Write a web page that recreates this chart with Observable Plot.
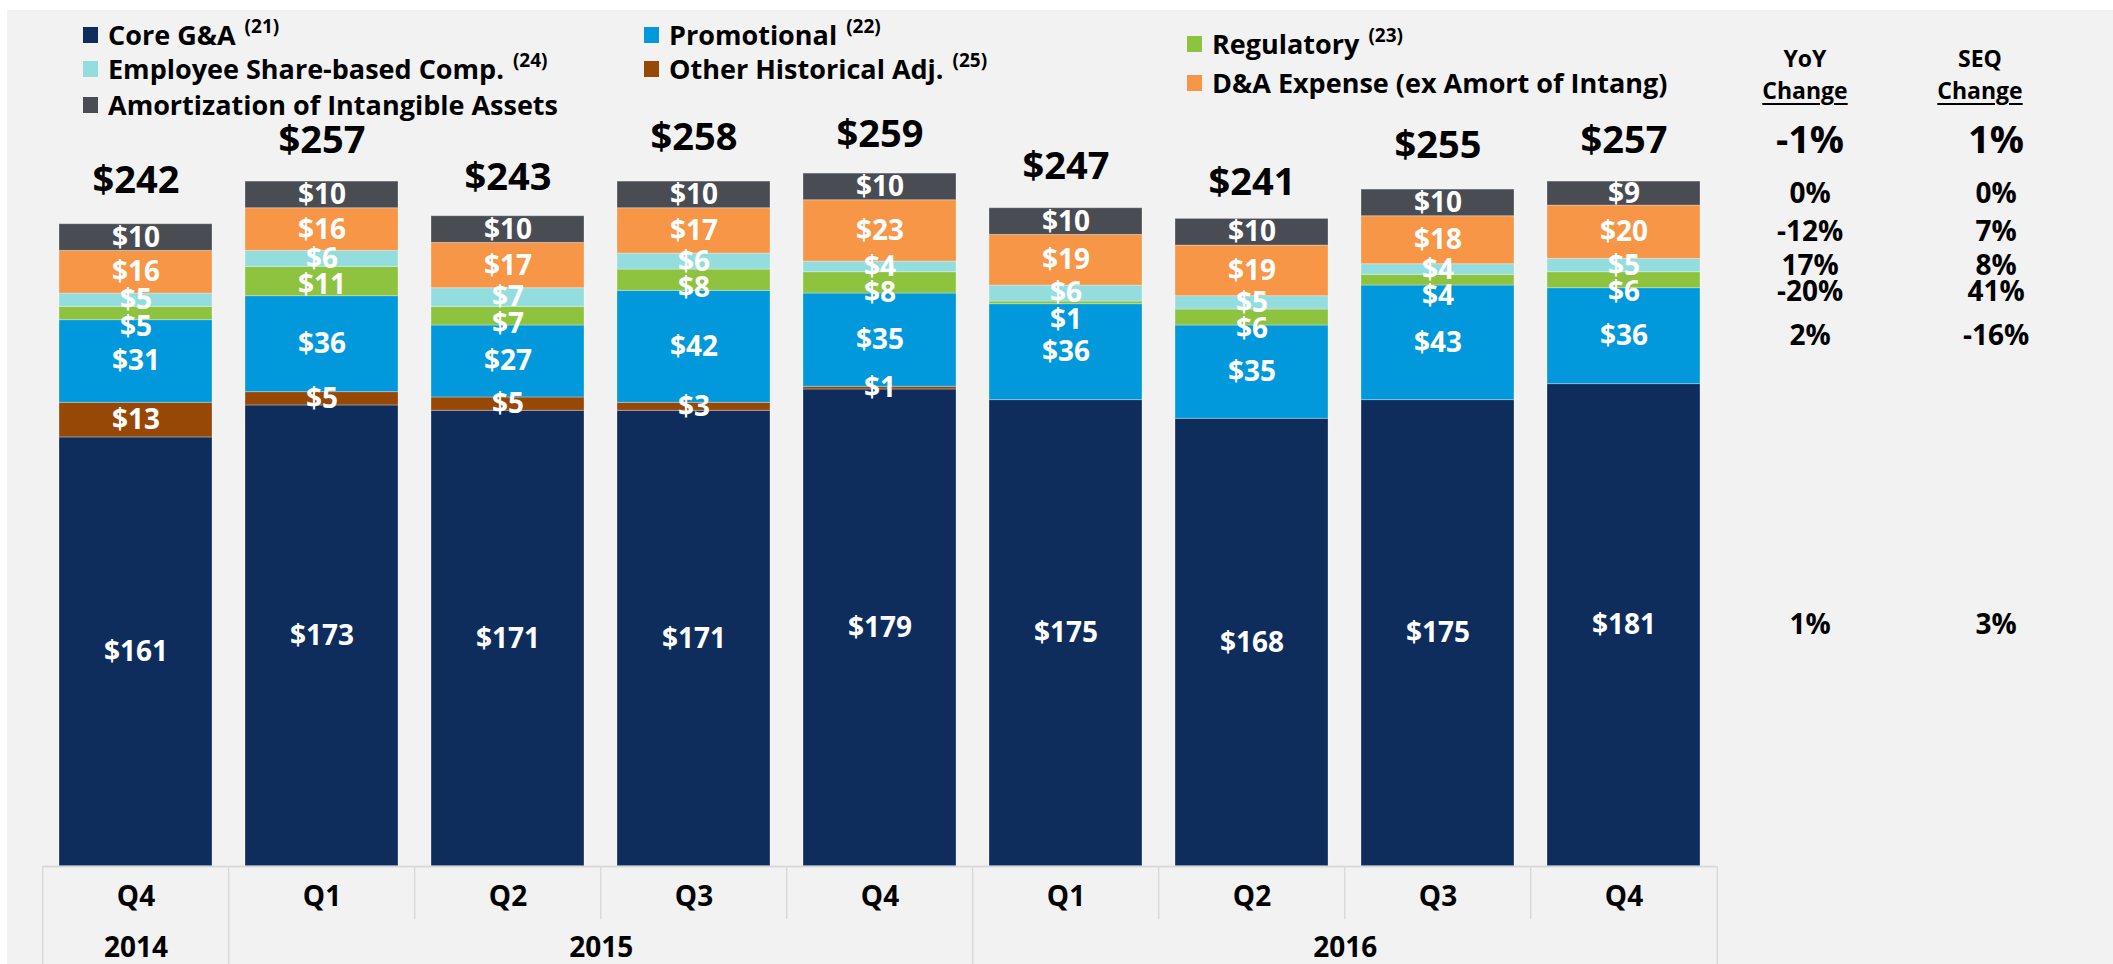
<!DOCTYPE html>
<html><head><meta charset="utf-8">
<script src="https://cdn.jsdelivr.net/npm/d3@7"></script>
<script src="https://cdn.jsdelivr.net/npm/@observablehq/plot@0.6"></script>
<style>
html,body{margin:0;padding:0;background:#fff;overflow:hidden;}
#wrap{position:relative;width:2113px;height:964px;overflow:hidden;font-family:"Open Sans",sans-serif;font-weight:700;color:#000;}
#bg{position:absolute;left:7px;top:10px;right:0;bottom:0;background:#f2f2f2;}
#chart{position:absolute;left:0;top:0;}
.lg{position:absolute;font-size:27px;line-height:27px;white-space:nowrap;}
.sw{position:absolute;width:15px;height:16px;}
.sup{font-size:19px;position:relative;top:-12px;margin-left:9px;}
.hd{position:absolute;font-size:23px;line-height:23px;text-align:center;width:140px;}
.hd u{text-decoration-thickness:2px;text-underline-offset:4px;}
</style></head><body><div id="wrap"><div id="bg"></div><div id="chart"></div><div id="legend"></div></div>
<script>
// ---- data ----
const quarters = ["Q4","Q1","Q2","Q3","Q4","Q1","Q2","Q3","Q4"];
const years = ["2014","2015","2015","2015","2015","2016","2016","2016","2016"];
const seriesNames = ["Core G&A","Other Historical Adj.","Promotional","Regulatory","Employee Share-based Comp.","D&A Expense (ex Amort of Intang)","Amortization of Intangible Assets"];
const seriesNotes = ["(21)","(25)","(22)","(23)","(24)","",""];
const seriesColors = ["#0e2c5c","#974706","#0199db","#8dc33f","#93dddf","#f79646","#494c52"];
const coreGA = [161,173,171,171,179,175,168,175,181];
const otherHistorical = [13,5,5,3,1,0,0,0,0];
const promotional = [31,36,27,42,35,36,35,43,36];
const regulatory = [5,11,7,8,8,1,6,4,6];
const employeeShare = [5,6,7,6,4,6,5,4,5];
const daExpense = [16,16,17,17,23,19,19,18,20];
const amortization = [10,10,10,10,10,10,10,10,9];
const totals = [242,257,243,258,259,247,241,255,257];
const changeRows = ["Total","Amortization of Intangible Assets","D&A Expense (ex Amort of Intang)","Employee Share-based Comp.","Regulatory","Promotional","Core G&A"];
const yoyChange = ["-1%","0%","-12%","17%","-20%","2%","1%"];
const seqChange = ["1%","0%","7%","8%","41%","-16%","3%"];

// ---- build tables ----
const seriesValues = [coreGA, otherHistorical, promotional, regulatory, employeeShare, daExpense, amortization];
const qkeys = quarters.map((q,i)=>q+" "+years[i]);
const rows = [];
qkeys.forEach((q,i)=>seriesNames.forEach((s,j)=>rows.push({q, series:s, value:seriesValues[j][i]})));

// label positions (segment midpoints, nudged apart when too close)
const minSep = 10;
const labelRows = [];
const labelY = {};
qkeys.forEach((q,i)=>{
  let base = 0; const mids = [];
  seriesNames.forEach((s,j)=>{ const v = seriesValues[j][i]; mids.push({s, v, y: base + v/2}); base += v; });
  labelY[q] = {};
  let prev = Infinity;
  for (let j = mids.length-1; j >= 0; j--) {
    const m = mids[j]; if (m.v <= 0) continue;
    let y = m.y; if (prev - y < minSep) y = prev - minSep;
    prev = y; labelY[q][m.s] = y;
    labelRows.push({q, y, text: "$"+m.v});
  }
});

const last = qkeys[qkeys.length-1];
const changeLabels = [];
changeRows.forEach((r,i)=>{
  const big = r === "Total";
  const y = big ? totals[totals.length-1] : labelY[last][r];
  changeLabels.push({col:"YoY", y, text:yoyChange[i], big});
  changeLabels.push({col:"SEQ", y, text:seqChange[i], big});
});

// ---- layout ----
const W = 2113, H = 964, mL = 38.6, mR = 20.7, mT = 66.5, mB = 98;
const xDomain = [...qkeys, "YoY", "SEQ"];
const step = (W - mL - mR) / xDomain.length;
const pad = 0.175;
const gap = step * pad / 2;

const leftEdges = qkeys.map((q,i)=>({q, long: i===0 || years[i]!==years[i-1]}));
const yearGroups = [];
years.forEach((y,i)=>{ const g = yearGroups.find(d=>d.year===y); if (g) g.last = i; else yearGroups.push({year:y, first:i, last:i}); });
const yearOdd = yearGroups.filter(g=>(g.first+g.last)%2===0).map(g=>({year:g.year, q:qkeys[(g.first+g.last)/2]}));
const yearEven = yearGroups.filter(g=>(g.first+g.last)%2===1).map(g=>({year:g.year, q:qkeys[Math.floor((g.first+g.last)/2)]}));

const chart = Plot.plot({
  width: W, height: H, marginLeft: mL, marginRight: mR, marginTop: mT, marginBottom: mB,
  style: {background: "transparent", fontFamily: "Open Sans", overflow: "visible"},
  x: {domain: xDomain, paddingInner: pad, paddingOuter: pad/2, axis: null},
  y: {domain: [0, 300], axis: null},
  color: {domain: seriesNames, range: seriesColors},
  marks: [
    Plot.barY(rows, {x:"q", y:"value", fill:"series", z:"series", order: seriesNames, stroke:"#ffffff", strokeOpacity:0.3, strokeWidth:1}),
    Plot.tickY(qkeys, {x:d=>d, y:()=>0, stroke:"#d9d9d9", strokeWidth:2, insetLeft:-gap, insetRight:-gap}),
    Plot.ruleX(leftEdges, {x:"q", y1:()=>0, y2:d=>d.long ? -37 : -20, dx:-step/2, stroke:"#d9d9d9", strokeWidth:1.5}),
    Plot.ruleX([last], {x:d=>d, y1:()=>0, y2:()=>-37, dx:step/2, stroke:"#d9d9d9", strokeWidth:1.5}),
    Plot.text(qkeys, {x:d=>d, y:()=>0, text:(d,i)=>quarters[i], dy:31, fontSize:28, fontWeight:"bold", fill:"#000"}),
    Plot.text(yearOdd, {x:"q", y:()=>0, text:"year", dy:82, fontSize:28, fontWeight:"bold", fill:"#000"}),
    Plot.text(yearEven, {x:"q", y:()=>0, text:"year", dy:82, dx:step/2, fontSize:28, fontWeight:"bold", fill:"#000"}),
    Plot.text(labelRows, {x:"q", y:"y", text:"text", fill:"#ffffff", fontSize:28, fontWeight:"bold"}),
    Plot.text(qkeys, {x:d=>d, y:(d,i)=>totals[i], text:(d,i)=>"$"+totals[i], dy:-41, fontSize:38, fontWeight:"bold", fill:"#000"}),
    Plot.text(changeLabels.filter(d=>d.big), {x:"col", y:"y", text:"text", dy:-41, fontSize:38, fontWeight:"bold", fill:"#000"}),
    Plot.text(changeLabels.filter(d=>!d.big), {x:"col", y:"y", text:"text", fontSize:28, fontWeight:"bold", fill:"#000"})
  ]
});
document.getElementById("chart").appendChild(chart);

// ---- legend (HTML overlay) ----
const legendPos = {
  "Core G&A":[83,35], "Employee Share-based Comp.":[83,69], "Amortization of Intangible Assets":[83,105],
  "Promotional":[644,35], "Other Historical Adj.":[644,69],
  "Regulatory":[1187,44], "D&A Expense (ex Amort of Intang)":[1187,83]
};
const lg = document.getElementById("legend");
seriesNames.forEach((s,j)=>{
  const [x,c] = legendPos[s];
  const sw = document.createElement("div"); sw.className="sw";
  sw.style.left = x+"px"; sw.style.top = (c-8)+"px"; sw.style.background = seriesColors[j];
  lg.appendChild(sw);
  const t = document.createElement("div"); t.className="lg";
  t.style.left = (x+25)+"px"; t.style.top = (c-14)+"px";
  t.textContent = s;
  if (seriesNotes[j]) { const sp = document.createElement("span"); sp.className="sup"; sp.textContent = seriesNotes[j]; t.appendChild(sp); }
  lg.appendChild(t);
});
[["YoY",1805],["SEQ",1980]].forEach(([h,cx])=>{
  const a = document.createElement("div"); a.className="hd"; a.style.left=(cx-70)+"px"; a.style.top="47px"; a.textContent=h; lg.appendChild(a);
  const b = document.createElement("div"); b.className="hd"; b.style.left=(cx-70)+"px"; b.style.top="79px"; b.innerHTML="<u>Change</u>"; lg.appendChild(b);
});
</script></body></html>
